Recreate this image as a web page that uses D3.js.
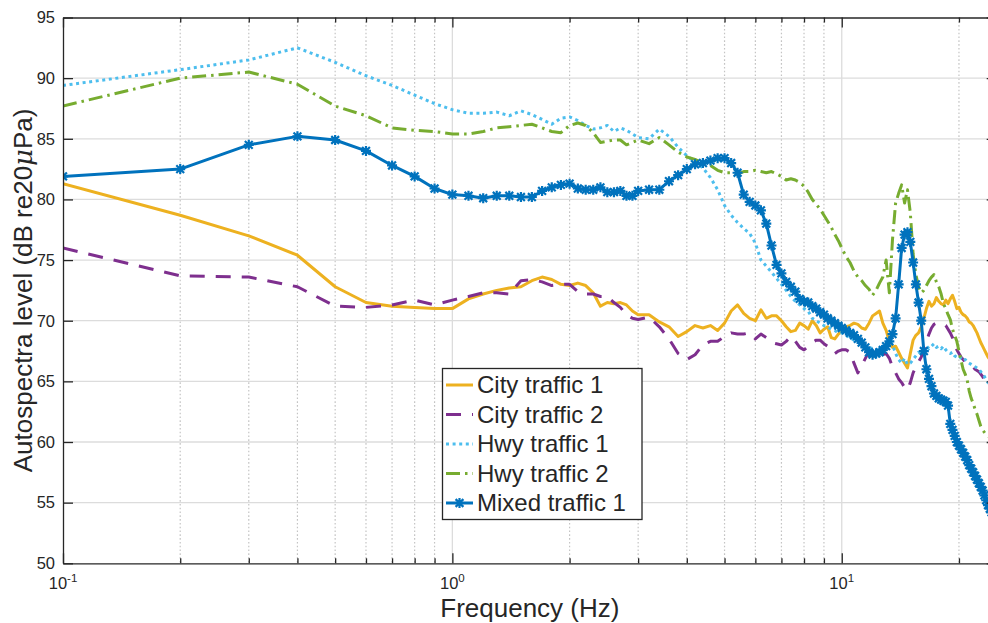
<!DOCTYPE html>
<html>
<head>
<meta charset="utf-8">
<script src="https://cdn.jsdelivr.net/npm/d3@7"></script>
<style>
  body { margin: 0; background: #fff; }
  svg { display: block; }
  text { font-family: "Liberation Sans", Arial, Helvetica, sans-serif; fill: #262626; }
</style>
</head>
<body>
<svg id="chart" width="988" height="623"></svg>
<script>
// Frequency bins (Hz)
const freqLow  = [0.1,0.2,0.3,0.4,0.5,0.6,0.7,0.8,0.9,1.0,1.1,1.2,1.3,1.4,1.5,1.6,1.7,1.8,1.9,2.0,2.1,2.2,2.3,2.4,2.5,2.6,2.7,2.8,2.9,3.0];
const freqMid  = [3.2,3.4,3.6,3.8,4.0,4.2,4.4,4.6,4.8,5.0,5.2,5.4,5.6,5.8,6.0,6.2,6.4,6.6,6.8,7.0,7.2,7.4,7.6,7.8,8.0,8.2,8.4,8.6,8.8,9.0,9.2,9.4,9.6,9.8,10.0];
const freqHigh = [10.25,10.5,10.75,11,11.25,11.5,11.75,12,12.25,12.5,12.75,13,13.25,13.5,13.75,14,14.25,14.5,14.75,15,15.25,15.5,15.75,16,16.25,16.5,16.75,17,17.25,17.5,17.75,18,18.25,18.5,18.75,19,19.25,19.5,19.75,20,20.25,20.5,20.75,21,21.25,21.5,21.75,22,22.25,22.5,22.75,23,23.25,23.5,23.75,24,24.25,24.5,24.75,25];
const freq = freqLow.concat(freqMid, freqHigh);

// Autospectra levels (dB re 20 µPa) at each frequency bin
const cityTraffic1 = [
  81.3,78.7,77.0,75.4,72.8,71.5,71.2,71.1,71.0,71.0, 71.8,72.2,72.5,72.7,72.8,73.3,73.6,73.4,73.0,72.9,
  73.1,72.9,72.3,71.2,71.5,71.4,71.5,71.3,70.8,70.5,
  70.5,69.9,69.5,68.7,69.1,69.6,69.4,69.6,69.2,69.8, 70.8,71.3,70.6,70.2,70.0,70.9,70.2,70.4,70.4,70.0,
  69.5,69.1,69.2,69.8,69.6,69.3,70.0,69.6,69.0,69.3, 69.5,68.6,68.5,68.9,69.1,
  69.5,69.6,69.8,69.7,69.4,69.3,69.8,70.4,70.6,70.8, 69.8,69.2,68.3,67.8,67.9,67.4,66.9,66.5,66.1,67.3,
  68.4,68.8,69.0,69.5,70.2,71.0,71.6,71.2,71.4,71.9, 71.6,71.4,71.3,71.7,71.4,71.8,72.1,71.6,71.0,71.1,
  70.7,70.5,70.4,70.2,69.9,69.8,69.6,69.3,69.0,68.6, 68.2,67.9,67.6,67.3,67.0,66.8,66.6,66.4,66.2,66.0
];
const cityTraffic2 = [
  76.0,73.7,73.6,72.8,71.2,71.1,71.3,71.7,71.3,71.7, 72.0,72.3,72.3,72.2,73.3,73.4,73.2,72.9,73.0,73.0,
  72.4,72.2,72.2,72.0,72.0,71.5,71.1,70.5,70.2,70.1,
  70.3,69.5,68.5,67.3,66.8,67.2,68.0,68.3,68.3,68.7, 69.0,68.9,68.9,69.0,68.5,68.9,68.6,68.2,68.1,68.0,
  68.3,68.7,68.3,67.8,67.6,67.9,68.2,68.4,68.4,68.1, 67.9,67.5,67.3,67.5,67.6,
  67.6,67.4,66.5,65.7,66.3,66.9,67.5,67.6,67.5,67.3, 67.2,67.3,66.9,66.2,65.7,65.2,64.9,64.5,64.3,64.9,
  65.7,66.2,66.6,67.0,67.6,68.3,68.9,69.4,69.7,69.8, 69.8,69.8,69.7,69.6,69.3,69.0,68.6,68.1,67.6,67.3,
  67.0,66.8,66.6,66.5,66.4,66.3,66.2,66.0,65.9,65.8, 65.6,65.4,65.1,64.8,64.6,64.4,64.3,64.2,64.1,64.0
];
const hwyTraffic1 = [
  89.4,90.7,91.5,92.5,91.3,90.2,89.4,88.6,87.9,87.4, 87.1,87.1,87.2,86.9,87.3,87.0,86.6,86.2,86.7,86.8,
  86.5,86.1,85.8,85.9,86.1,85.6,85.9,85.7,85.4,85.1,
  85.0,85.8,85.2,84.3,83.6,83.1,82.6,81.8,80.8,79.5, 78.7,78.1,77.6,77.2,76.4,75.0,74.5,74.0,73.5,73.0,
  72.5,72.0,71.6,71.3,71.0,70.8,70.2,70.0,69.8,69.6, 69.5,69.3,69.2,69.0,69.0,
  68.8,68.6,68.4,68.2,68.0,67.9,67.8,67.7,67.6,67.6, 67.9,68.2,68.4,68.0,67.3,66.8,66.5,66.9,66.4,66.5,
  66.8,67.1,67.4,67.3,67.6,67.9,67.7,67.9,68.1,67.8, 67.9,67.7,67.9,67.6,67.4,67.3,67.4,67.1,67.0,67.1,
  66.9,66.7,66.8,66.6,66.5,66.4,66.3,66.2,66.1,66.0, 65.8,65.6,65.4,65.1,64.9,64.8,64.7,64.6,64.5,64.4
];
const hwyTraffic2 = [
  87.7,90.0,90.5,89.5,87.7,86.9,85.9,85.7,85.6,85.4, 85.4,85.6,85.9,86.0,86.1,86.2,85.9,85.6,85.5,86.1,
  86.3,86.1,85.5,84.7,84.8,84.9,84.9,84.5,84.7,84.9,
  84.6,85.1,84.5,83.9,83.5,83.3,83.0,82.8,82.4,82.2, 82.2,82.1,82.3,82.3,82.4,82.3,82.2,82.3,82.1,81.9,
  81.6,81.7,81.6,81.4,81.1,80.6,80.0,79.6,79.2,78.7, 78.2,77.7,77.1,76.6,76.0,
  75.3,74.8,74.1,73.6,73.3,72.9,72.6,72.1,72.5,73.1, 73.6,75.0,72.3,76.7,79.7,80.5,81.2,79.7,80.8,78.9,
  75.5,73.8,72.8,72.3,72.5,72.9,73.3,73.6,73.8,73.2, 72.8,72.2,71.4,71.0,70.5,70.1,69.3,68.8,68.3,67.5,
  66.7,66.0,65.6,65.1,64.2,63.6,63.2,62.7,62.3,61.8, 61.3,61.0,60.8,60.6,60.5,60.4,60.3,60.2,60.1,60.0
];
const mixedTraffic1 = [
  81.9,82.5,84.5,85.2,84.9,84.0,82.8,81.9,80.9,80.4, 80.3,80.1,80.3,80.3,80.2,80.2,80.7,81.0,81.2,81.3,
  80.9,80.8,80.8,81.0,80.6,80.6,80.7,80.3,80.3,80.7,
  80.8,80.8,81.5,82.0,82.5,82.9,83.0,83.2,83.4,83.4, 83.0,82.2,80.4,79.8,79.5,79.1,78.0,76.2,74.6,73.9,
  73.2,72.8,72.4,71.8,71.6,71.5,71.2,71.0,70.7,70.5, 70.2,70.0,69.8,69.6,69.4,
  69.2,69.0,68.8,68.5,68.2,67.8,67.4,67.2,67.3,67.4, 67.6,67.9,68.3,68.9,70.2,73.0,76.0,77.1,77.3,76.5,
  74.8,73.0,71.5,70.0,67.5,66.0,65.2,64.6,64.0,63.8, 63.6,63.5,63.4,63.3,63.0,61.5,61.0,60.5,60.0,59.7,
  59.4,59.1,58.8,58.5,58.1,57.8,57.5,57.2,56.9,56.6, 56.3,56.0,55.6,55.2,54.8,54.5,54.2,54.0,53.7,53.5
];

const seriesNames = ["City traffic 1", "City traffic 2", "Hwy traffic 1", "Hwy traffic 2", "Mixed traffic 1"];
const seriesValues = [cityTraffic1, cityTraffic2, hwyTraffic1, hwyTraffic2, mixedTraffic1];

const yTickValues = [50, 55, 60, 65, 70, 75, 80, 85, 90, 95];
const xMajorTicks = [0.1, 1, 10];
const xMinorTicks = [0.2,0.3,0.4,0.5,0.6,0.7,0.8,0.9, 2,3,4,5,6,7,8,9, 20];
const xTickExponents = ["-1", "0", "1"];

// Line styling per series
const styles = [
  { color: "#EDB120", dash: null,            marker: false },
  { color: "#7E2F8E", dash: "15,11",         marker: false },
  { color: "#4DBEEE", dash: "3,3.6",         marker: false },
  { color: "#77AC30", dash: "14,5,2.5,5",    marker: false },
  { color: "#0072BD", dash: null,            marker: true  }
];

const svg = d3.select("#chart");
const W = 988, H = 623;
const plot = { left: 63, right: 996.7, top: 17.5, bottom: 563.3 };

const x = d3.scaleLog().domain([0.1, 25]).range([plot.left, plot.right]);
const y = d3.scaleLinear().domain([50, 95]).range([plot.bottom, plot.top]);

svg.append("rect").attr("width", W).attr("height", H).attr("fill", "#fff");

svg.append("defs").append("clipPath").attr("id", "plotClip")
  .append("rect")
  .attr("x", plot.left).attr("y", plot.top)
  .attr("width", plot.right - plot.left).attr("height", plot.bottom - plot.top);

// Grid
const grid = svg.append("g");
grid.selectAll("line.minor").data(xMinorTicks).join("line")
  .attr("x1", d => x(d)).attr("x2", d => x(d))
  .attr("y1", plot.top).attr("y2", plot.bottom)
  .attr("stroke", "#c4c4c4").attr("stroke-width", 1.2)
  .attr("stroke-dasharray", "1.6,2.2");
grid.selectAll("line.majorx").data(xMajorTicks.slice(1)).join("line")
  .attr("x1", d => x(d)).attr("x2", d => x(d))
  .attr("y1", plot.top).attr("y2", plot.bottom)
  .attr("stroke", "#dcdcdc").attr("stroke-width", 1.3);
grid.selectAll("line.majory").data(yTickValues.slice(1, -1)).join("line")
  .attr("x1", plot.left).attr("x2", plot.right)
  .attr("y1", d => y(d)).attr("y2", d => y(d))
  .attr("stroke", "#dcdcdc").attr("stroke-width", 1.3);

// Data lines
const lineGen = d3.line().x(d => x(d[0])).y(d => y(d[1]));
const dataG = svg.append("g").attr("clip-path", "url(#plotClip)");

// Asterisk marker: a cross plus a diagonal cross
function starMarker(sel, s) {
  const d = s * 0.78;
  sel.append("path")
    .attr("d", `M${-d},${-d}L${d},${d}M${-d},${d}L${d},${-d}M0,${-s}L0,${s}M${-s},0L${s},0`)
    .attr("fill", "none");
}

seriesValues.forEach((vals, i) => {
  const st = styles[i];
  const n = Math.min(vals.length, freq.length);
  const pts = d3.range(n).map(k => [freq[k], vals[k]]);
  const p = dataG.append("path")
    .attr("d", lineGen(pts))
    .attr("fill", "none")
    .attr("stroke", st.color)
    .attr("stroke-width", 3)
    .attr("stroke-linejoin", "round");
  if (st.dash) p.attr("stroke-dasharray", st.dash).attr("stroke-linecap", "butt");
  if (st.marker) {
    const mg = dataG.append("g").attr("stroke", st.color).attr("stroke-width", 2.2);
    mg.selectAll("g").data(pts).join("g")
      .attr("transform", d => `translate(${x(d[0])},${y(d[1])})`)
      .each(function () { starMarker(d3.select(this), 5); });
  }
});

// Axes (ticks point inward)
function styleAxis(g) {
  g.selectAll(".domain").attr("stroke", "#262626").attr("stroke-width", 1.3);
  g.selectAll(".tick line").attr("stroke", "#262626").attr("stroke-width", 1.3);
}
const bottomMajor = svg.append("g").attr("transform", `translate(0,${plot.bottom})`)
  .call(d3.axisBottom(x).tickValues(xMajorTicks).tickSize(-10).tickSizeOuter(0).tickFormat(""));
const bottomMinor = svg.append("g").attr("transform", `translate(0,${plot.bottom})`)
  .call(d3.axisBottom(x).tickValues(xMinorTicks).tickSize(-5).tickSizeOuter(0).tickFormat(""));
bottomMinor.select(".domain").remove();
const topMajor = svg.append("g").attr("transform", `translate(0,${plot.top})`)
  .call(d3.axisTop(x).tickValues(xMajorTicks).tickSize(-10).tickSizeOuter(0).tickFormat(""));
const topMinor = svg.append("g").attr("transform", `translate(0,${plot.top})`)
  .call(d3.axisTop(x).tickValues(xMinorTicks).tickSize(-5).tickSizeOuter(0).tickFormat(""));
topMinor.select(".domain").remove();
const leftAxis = svg.append("g").attr("transform", `translate(${plot.left},0)`)
  .call(d3.axisLeft(y).tickValues(yTickValues).tickSize(-10).tickSizeOuter(0).tickPadding(8).tickFormat(d3.format("d")));
const rightAxis = svg.append("g").attr("transform", `translate(${plot.right},0)`)
  .call(d3.axisRight(y).tickValues(yTickValues).tickSize(-10).tickSizeOuter(0).tickFormat(""));
[bottomMajor, bottomMinor, topMajor, topMinor, leftAxis, rightAxis].forEach(styleAxis);
leftAxis.selectAll(".tick text")
  .attr("font-size", 16.5).attr("fill", "#262626")
  .style("font-family", "'Liberation Sans', Arial, sans-serif");
leftAxis.attr("font-family", null).attr("font-size", null);

// Log tick labels: 10^n
const xl = svg.append("g");
xMajorTicks.forEach((t, i) => {
  const tx = xl.append("text")
    .attr("x", x(t)).attr("y", 589)
    .attr("text-anchor", "middle")
    .attr("font-size", 16.5);
  tx.append("tspan").text("10");
  tx.append("tspan").attr("dy", -7.5).attr("font-size", 11.5).text(xTickExponents[i]);
});

// Axis titles
svg.append("text")
  .attr("x", (plot.left + plot.right) / 2).attr("y", 617)
  .attr("text-anchor", "middle").attr("font-size", 26)
  .text("Frequency (Hz)");

const yTitle = svg.append("text")
  .attr("transform", `translate(32,${(plot.top + plot.bottom) / 2}) rotate(-90)`)
  .attr("text-anchor", "middle").attr("font-size", 26);
yTitle.append("tspan").text("Autospectra level (dB re20");
yTitle.append("tspan").attr("font-style", "italic")
  .style("font-family", "'DejaVu Serif', 'Liberation Serif', serif").text("\u03bc");
yTitle.append("tspan").text("Pa)");

// Legend
const leg = svg.append("g");
leg.append("rect")
  .attr("x", 442.5).attr("y", 368.5).attr("width", 199.5).attr("height", 151)
  .attr("fill", "#fff").attr("stroke", "#262626").attr("stroke-width", 1.3);
const rowY = [385, 414.5, 444, 473.5, 503];
seriesNames.forEach((name, i) => {
  const st = styles[i];
  const ly = rowY[i];
  const l = leg.append("line")
    .attr("x1", 446).attr("x2", 473).attr("y1", ly).attr("y2", ly)
    .attr("stroke", st.color).attr("stroke-width", 3);
  if (st.dash) l.attr("stroke-dasharray", st.dash);
  if (st.marker) {
    const m = leg.append("g").attr("transform", `translate(459.5,${ly})`)
      .attr("stroke", st.color).attr("stroke-width", 2.2);
    starMarker(m, 5);
  }
  leg.append("text")
    .attr("x", 477).attr("y", ly).attr("dy", "0.35em")
    .attr("font-size", 24).attr("fill", "#000")
    .text(name);
});
</script>
</body>
</html>
